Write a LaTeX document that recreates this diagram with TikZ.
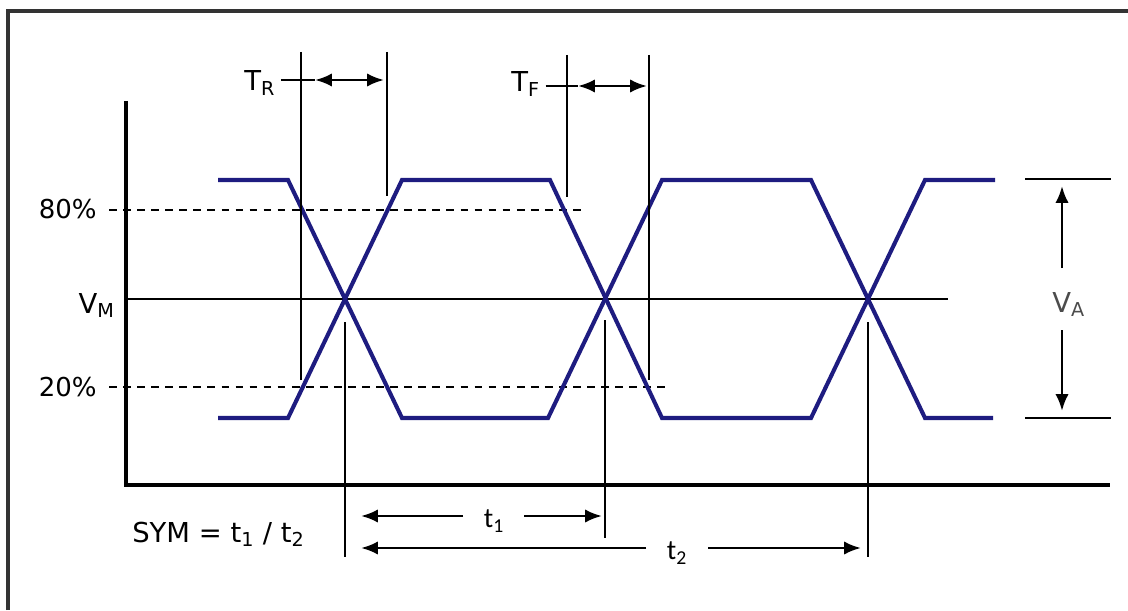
\documentclass[tikz,border=0pt]{standalone}
\usepackage{fontspec}
\setmainfont{DejaVu Sans}
\newfontfamily\tfont{Carlito}
\usetikzlibrary{calc}
\usetikzlibrary{arrows.meta}
\definecolor{wavenavy}{RGB}{30,28,128}

\begin{document}
\begin{tikzpicture}[x=0.025cm, y=-0.025cm,
    wave/.style={line width=2.9pt, wavenavy},
    guide/.style={line width=0.9pt},
    level/.style={line width=0.8pt, dash pattern=on 5.5pt off 4.5pt},
    dimarrow/.style={line width=2pt, {Latex[length=12pt,width=9.5pt]}-{Latex[length=12pt,width=9.5pt]}},
    halfarrow/.style={line width=2pt, -{Latex[length=12pt,width=9.5pt]}},
    lbl/.style={inner sep=0pt, font=\fontsize{18.5}{20}\selectfont},
    biglbl/.style={inner sep=0pt, font=\fontsize{19.5}{22}\selectfont},
    tlbl/.style={inner sep=0pt, font=\tfont\fontsize{20}{22}\selectfont}]
    \useasboundingbox (0,0) rectangle (1128,610);

    % frame (cut at right and bottom)
    \draw[line width=2.2pt, black!80] (8,610) -- (8,11) -- (1128,11);

    % axes
    \coordinate (ytop) at (126,101);
    \coordinate (origin) at (126,485);
    \coordinate (xend) at (1110,485);
    \draw[line width=2.2pt] (ytop) -- (origin) -- (xend);

    % levels
    \node[lbl, anchor=base east] (p80) at (97,218) {80\%};
    \node[lbl, anchor=base east] (p20) at (97,396) {20\%};
    \node[biglbl, anchor=base east] (vm) at (115,313) {V\textsubscript{M}};
    \coordinate (l80) at (109,210);
    \coordinate (r80) at (585,210);
    \coordinate (l20) at (109,387);
    \coordinate (r20) at (670,387);
    \coordinate (lvm) at (126,299);
    \coordinate (rvm) at (948,299);
    \draw[level] (l80) -- (r80);
    \draw[level] (l20) -- (r20);
    \draw[guide] (lvm) -- (rvm);

    % the two signals
    \draw[wave] (218,180) -- (288,180) -- (402,418) -- (548,418) -- (662,180)
      -- (811,180) -- (925,418) -- (993,418);
    \draw[wave] (218,418) -- (288,418) -- (402,180) -- (550,180) -- (662,418)
      -- (811,418) -- (925,180) -- (995,180);

    % rise time
    \coordinate (r1a) at (301,52);
    \coordinate (r1b) at (301,380);
    \coordinate (r2a) at (387,52);
    \coordinate (r2b) at (387,196);
    \draw[guide] (r1a) -- (r1b);
    \draw[guide] (r2a) -- (r2b);
    \node[biglbl, anchor=base west] (tr) at (244,91) {T\textsubscript{R}};
    \coordinate (trL) at (315,80);
    \coordinate (trR) at (384,80);
    \draw[guide] ([xshift=4pt]tr.east |- trL) -- (trL);
    \draw[dimarrow] (trL) -- (trR);

    % fall time
    \coordinate (f1a) at (567,55);
    \coordinate (f1b) at (567,197);
    \coordinate (f2a) at (649,55);
    \coordinate (f2b) at (649,380);
    \draw[guide] (f1a) -- (f1b);
    \draw[guide] (f2a) -- (f2b);
    \node[biglbl, anchor=base west] (tf) at (511,92) {T\textsubscript{F}};
    \coordinate (tfL) at (578,86);
    \coordinate (tfR) at (647,86);
    \draw[guide] ([xshift=4pt]tf.east |- tfL) -- (tfL);
    \draw[dimarrow] (tfL) -- (tfR);

    % amplitude
    \coordinate (vhA) at (1025,179);
    \coordinate (vhB) at (1111,179);
    \coordinate (vlA) at (1025,418);
    \coordinate (vlB) at (1111,418);
    \draw[guide] (vhA) -- (vhB);
    \draw[guide] (vlA) -- (vlB);
    \node[biglbl, anchor=base west, text=black!70] (va) at (1052,312) {V\textsubscript{A}};
    \draw[halfarrow] (1062,268) -- (1062,186);
    \draw[halfarrow] (1062,330) -- (1062,411);

    % symmetry
    \coordinate (c1a) at (345,322);
    \coordinate (c1b) at (345,557);
    \coordinate (c2a) at (605,320);
    \coordinate (c2b) at (605,538);
    \coordinate (c3a) at (868,322);
    \coordinate (c3b) at (868,557);
    \draw[guide] (c1a) -- (c1b);
    \draw[guide] (c2a) -- (c2b);
    \draw[guide] (c3a) -- (c3b);
    \node[tlbl] (t1) at (494,521) {t\textsubscript{1}};
    \node[tlbl] (t2) at (677,553) {t\textsubscript{2}};
    \draw[halfarrow] (463,516) -- (361,516);
    \draw[halfarrow] (524,516) -- (602,516);
    \draw[halfarrow] (646,548) -- (361,548);
    \draw[halfarrow] (708,548) -- (861,548);
    \node[biglbl, anchor=base west] (sym) at (132,542) {SYM = t\textsubscript{1} / t\textsubscript{2}};
\end{tikzpicture}
\end{document}
